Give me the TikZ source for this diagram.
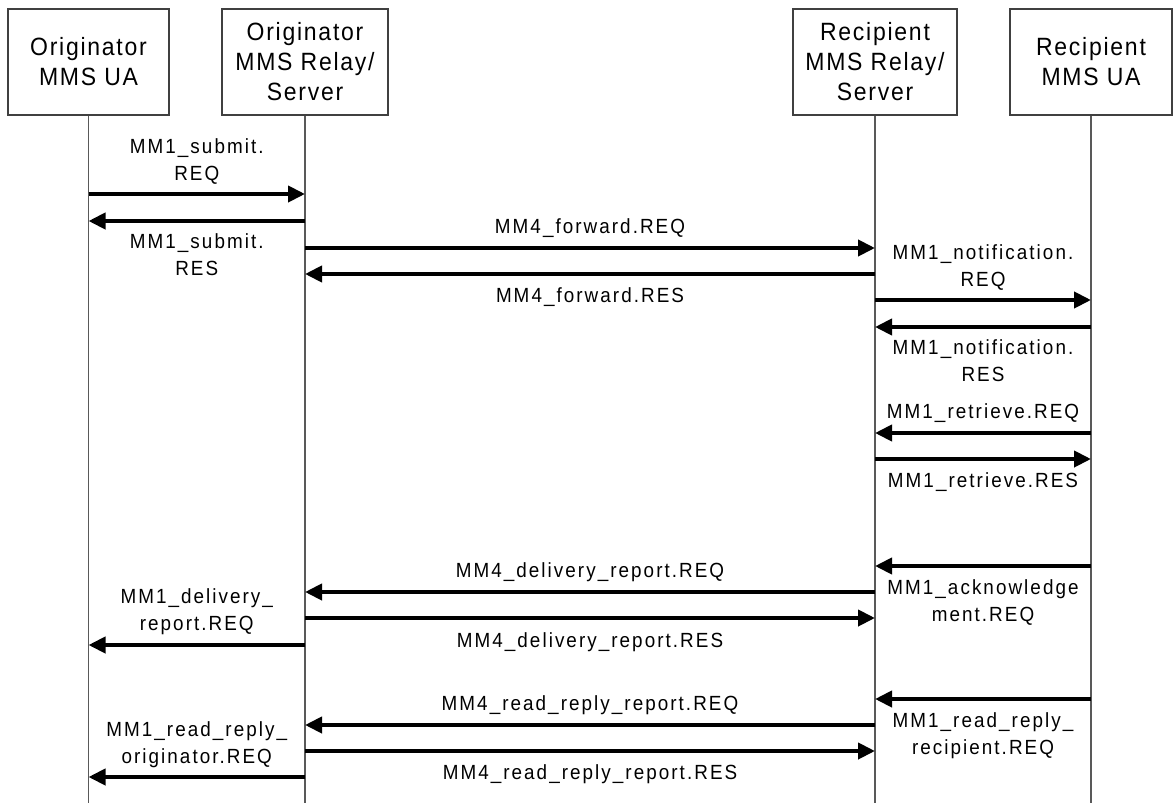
\documentclass[tikz,border=0pt]{standalone}
\usepackage{fontspec}
\usetikzlibrary{arrows.meta}
\newfontfamily\lblfont[LetterSpace=10,FakeStretch=0.92]{Liberation Sans}
\newfontfamily\boxfont[LetterSpace=7,FakeStretch=0.92]{Liberation Sans}
\begin{document}
\begin{tikzpicture}[x=1pt,y=-1pt,
  actor/.style={draw=black!75, line width=1.1pt, minimum height=106pt, inner sep=0pt, align=center,
    font=\boxfont\fontsize{25}{30}\selectfont},
  life/.style={draw=black!65, line width=1.1pt},
  msg/.style={line width=4pt, -{Triangle[length=17pt,width=16pt]}},
  lbl/.style={anchor=base, align=center, inner sep=0pt,
    font=\lblfont\fontsize{20.5}{26.5}\selectfont}]
\useasboundingbox (0,0) rectangle (1173,803);

% actors
\node[actor, minimum width=161pt] (oua) at (88.5,62) {Originator\\MMS UA};
\node[actor, minimum width=166pt] (ors) at (305,62) {Originator\\MMS Relay/\\Server};
\node[actor, minimum width=164pt] (rrs) at (875,62) {Recipient\\MMS Relay/\\Server};
\node[actor, minimum width=162pt] (rua) at (1091,62) {Recipient\\MMS UA};

% lifeline ends
\coordinate (ouaEnd) at (oua.south |- 0,803);
\coordinate (orsEnd) at (ors.south |- 0,803);
\coordinate (rrsEnd) at (rrs.south |- 0,803);
\coordinate (ruaEnd) at (rua.south |- 0,803);
\draw[life] (oua.south) -- (ouaEnd);
\draw[life] (ors.south) -- (orsEnd);
\draw[life] (rrs.south) -- (rrsEnd);
\draw[life] (rua.south) -- (ruaEnd);

% messages (multi-line labels are placed by the baseline of their last line)
\draw[msg] (oua.south |- 0,194) -- (ors.south |- 0,194);
\node[lbl] (l1) at (196.75,180) {MM1\_submit.\\REQ};

\draw[msg] (ors.south |- 0,221) -- (oua.south |- 0,221);
\node[lbl] (l2) at (196.75,275) {MM1\_submit.\\RES};

\draw[msg] (ors.south |- 0,248) -- (rrs.south |- 0,248);
\node[lbl] (l3) at (590,233) {MM4\_forward.REQ};

\draw[msg] (rrs.south |- 0,274) -- (ors.south |- 0,274);
\node[lbl] (l4) at (590,302) {MM4\_forward.RES};

\draw[msg] (rrs.south |- 0,300) -- (rua.south |- 0,300);
\node[lbl] (l5) at (983,286) {MM1\_notification.\\REQ};

\draw[msg] (rua.south |- 0,327) -- (rrs.south |- 0,327);
\node[lbl] (l6) at (983,381) {MM1\_notification.\\RES};

\draw[msg] (rua.south |- 0,433) -- (rrs.south |- 0,433);
\node[lbl] (l7) at (983,418) {MM1\_retrieve.REQ};

\draw[msg] (rrs.south |- 0,459) -- (rua.south |- 0,459);
\node[lbl] (l8) at (983,487) {MM1\_retrieve.RES};

\draw[msg] (rua.south |- 0,566) -- (rrs.south |- 0,566);
\node[lbl] (l9) at (983,621) {MM1\_acknowledge\\ment.REQ};

\draw[msg] (rrs.south |- 0,592) -- (ors.south |- 0,592);
\node[lbl] (l10) at (590,577) {MM4\_delivery\_report.REQ};

\draw[msg] (ors.south |- 0,618) -- (rrs.south |- 0,618);
\node[lbl] (l11) at (590,647) {MM4\_delivery\_report.RES};

\draw[msg] (ors.south |- 0,645) -- (oua.south |- 0,645);
\node[lbl] (l12) at (196.75,630) {MM1\_delivery\_\\report.REQ};

\draw[msg] (rua.south |- 0,699) -- (rrs.south |- 0,699);
\node[lbl] (l13) at (983,754) {MM1\_read\_reply\_\\recipient.REQ};

\draw[msg] (rrs.south |- 0,725) -- (ors.south |- 0,725);
\node[lbl] (l14) at (590,710) {MM4\_read\_reply\_report.REQ};

\draw[msg] (ors.south |- 0,751) -- (rrs.south |- 0,751);
\node[lbl] (l15) at (590,779) {MM4\_read\_reply\_report.RES};

\draw[msg] (ors.south |- 0,777) -- (oua.south |- 0,777);
\node[lbl] (l16) at (196.75,763) {MM1\_read\_reply\_\\originator.REQ};
\end{tikzpicture}
\end{document}
